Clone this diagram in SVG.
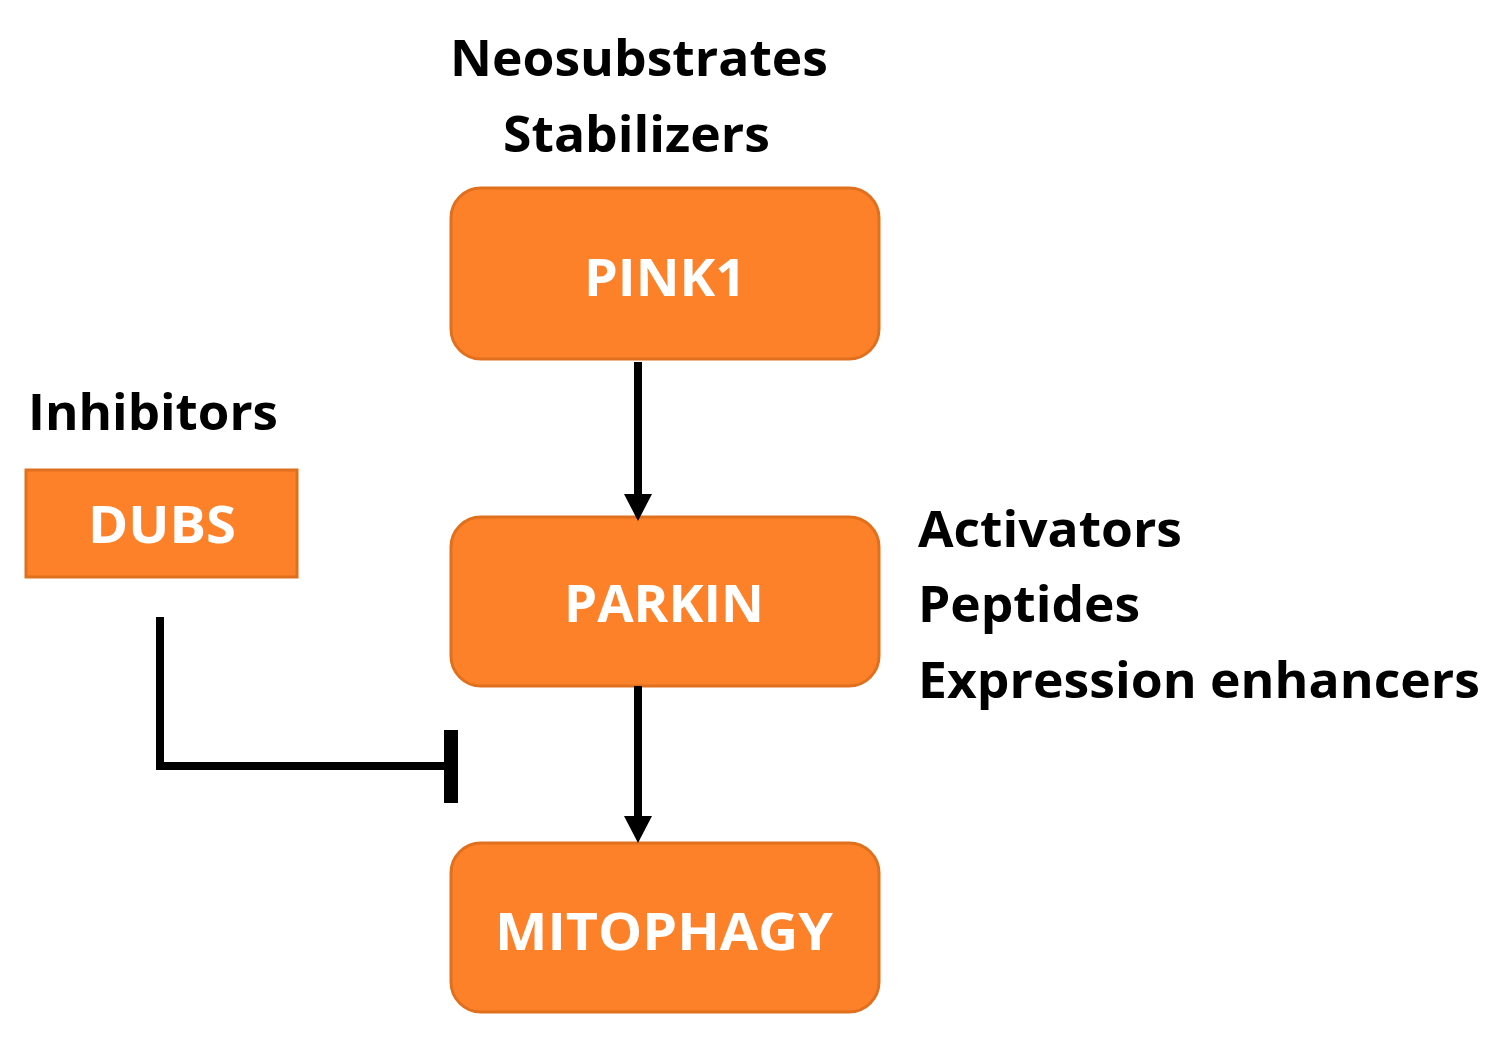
<svg xmlns="http://www.w3.org/2000/svg" width="1502" height="1037" viewBox="0 0 1502 1037">
<style>
.box{fill:#FD8128;stroke:#E0701E;stroke-width:3}
.w{fill:#fff;font-family:"Open Sans","Liberation Sans",sans-serif;font-weight:bold;font-size:52px;text-anchor:middle}
.k{fill:#000;font-family:"Open Sans","Liberation Sans",sans-serif;font-weight:bold;font-size:50px}
.ln{stroke:#000;stroke-width:8;fill:none}
</style>
<defs><marker id="ah" markerWidth="4" markerHeight="4" refX="3" refY="2" orient="auto"><path d="M0,0 L3.5,2 L0,4 Z" fill="#000"/></marker></defs>
<rect width="1502" height="1037" fill="#fff"/>
<g id="labels">
<text class="k" x="450" y="76" textLength="378" lengthAdjust="spacingAndGlyphs">Neosubstrates</text>
<text class="k" x="503" y="152" textLength="267" lengthAdjust="spacingAndGlyphs">Stabilizers</text>
<text class="k" x="28" y="430" textLength="250" lengthAdjust="spacingAndGlyphs">Inhibitors</text>
<text class="k" x="918" y="547" textLength="264" lengthAdjust="spacingAndGlyphs">Activators</text>
<text class="k" x="918" y="622" textLength="222" lengthAdjust="spacingAndGlyphs">Peptides</text>
<text class="k" x="918" y="698" textLength="562" lengthAdjust="spacingAndGlyphs">Expression enhancers</text>
</g>
<g id="pink1"><rect class="box" x="451" y="188" width="428" height="171" rx="30"/><text class="w" x="665" y="296" textLength="162" lengthAdjust="spacingAndGlyphs">PINK1</text></g>
<g id="parkin"><rect class="box" x="451" y="517" width="428" height="169" rx="30"/><text class="w" x="664" y="622" textLength="200" lengthAdjust="spacingAndGlyphs">PARKIN</text></g>
<g id="mitophagy"><rect class="box" x="451" y="843" width="428" height="169" rx="30"/><text class="w" x="664" y="950" textLength="338" lengthAdjust="spacingAndGlyphs">MITOPHAGY</text></g>
<g id="dubs"><rect class="box" x="26" y="470" width="271" height="107"/><text class="w" x="162" y="543" textLength="148" lengthAdjust="spacingAndGlyphs">DUBS</text></g>
<g id="connectors">
<line class="ln" x1="638" y1="362" x2="638" y2="496"/><path d="M624,494 L652,494 L638,521 Z" fill="#000"/>
<line class="ln" x1="638" y1="686" x2="638" y2="818"/><path d="M624,816 L652,816 L638,843 Z" fill="#000"/>
<path class="ln" d="M160,617 V766 H450"/>
<line x1="451" y1="730" x2="451" y2="803" stroke="#000" stroke-width="14"/>
</g>
</svg>
